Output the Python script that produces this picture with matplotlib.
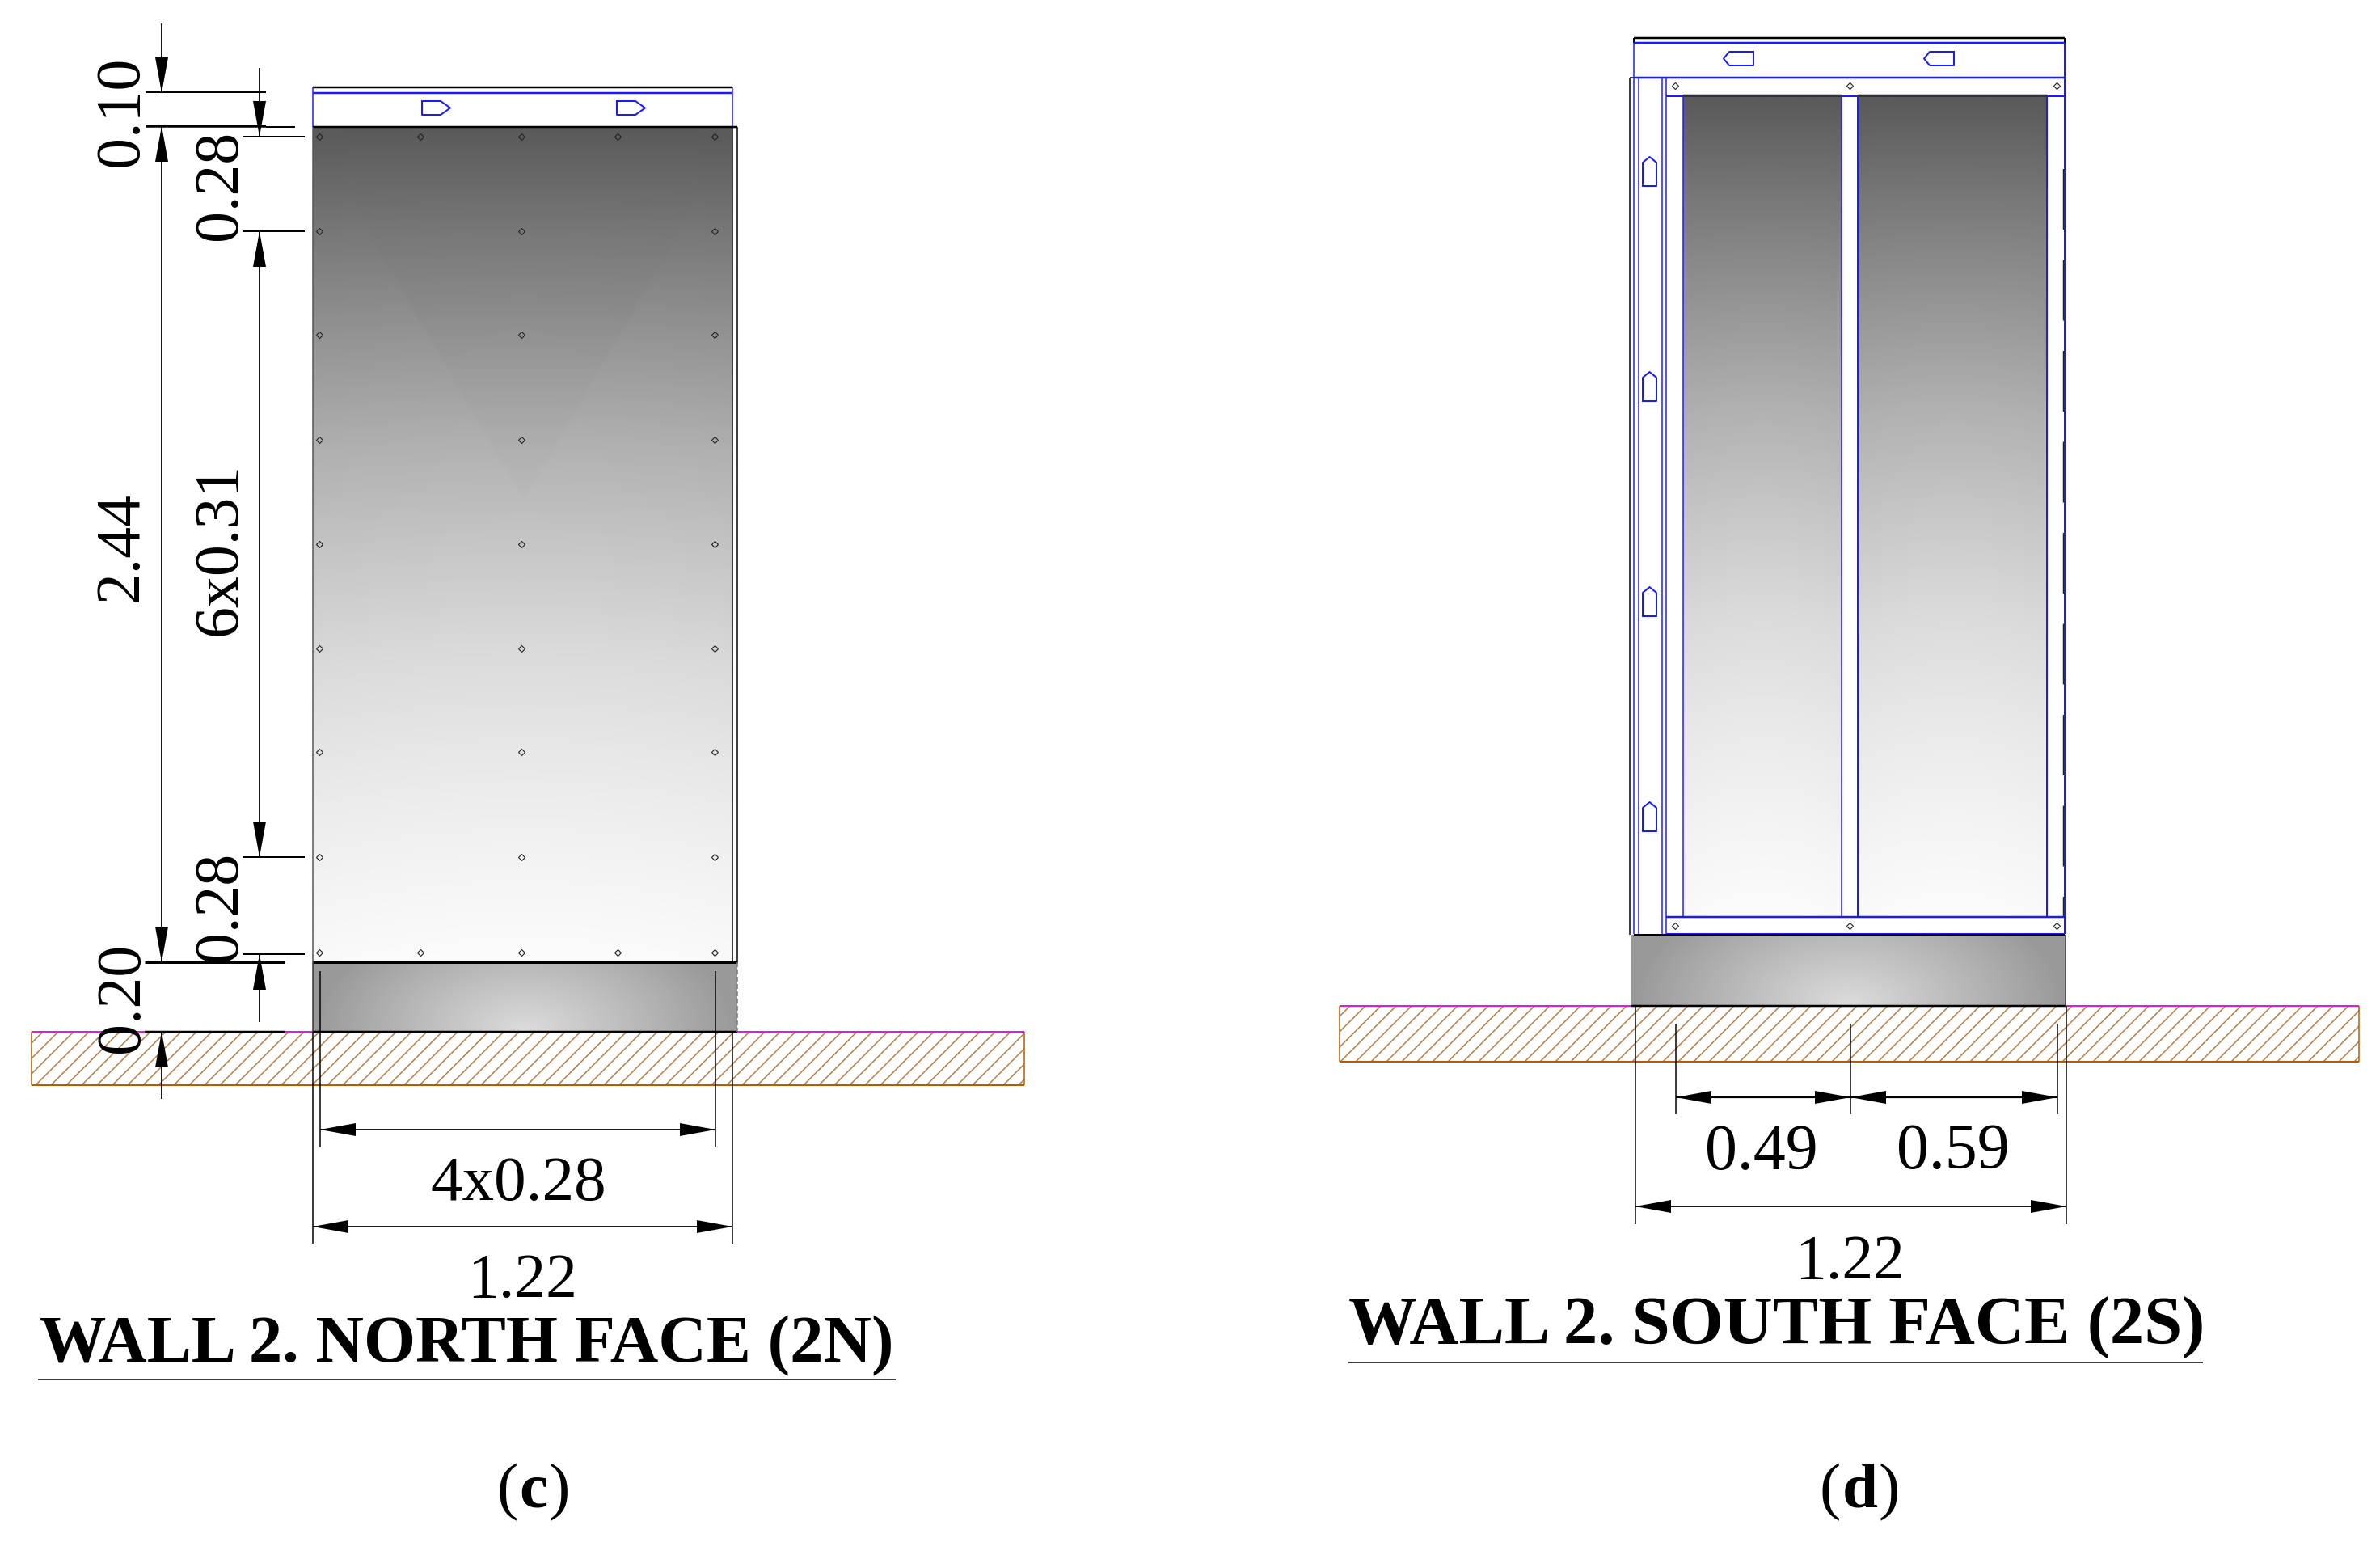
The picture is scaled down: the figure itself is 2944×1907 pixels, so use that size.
import numpy as np
import matplotlib
matplotlib.use('Agg')
import matplotlib.pyplot as plt
from matplotlib.collections import LineCollection
from matplotlib.colors import LinearSegmentedColormap
from matplotlib.patches import Rectangle

plt.rcParams['font.family'] = ['Liberation Serif', 'DejaVu Serif']

# dimension labels
titles = ['WALL 2. NORTH FACE (2N)', 'WALL 2. SOUTH FACE (2S)']
panel_letters = ['c', 'd']
north_vertical = ['0.10', '0.28', '2.44', '6x0.31', '0.28', '0.20']
north_horizontal = ['4x0.28', '1.22']
south_horizontal = ['0.49', '0.59', '1.22']

# grey levels read down the wall, top to bottom
wall_greys = ['#5a5a5a', '#797979', '#959595', '#b0b0b0', '#c6c6c6',
              '#dadada', '#e8e8e8', '#f3f3f3', '#fcfcfc']
base_greys = ['#dcdcdc', '#c6c6c6', '#b0b0b0', '#999999']

# bolt positions in pixels
north_bolt_x = [395, 520, 645, 764, 884]
north_bolt_y = [170, 287, 415, 545, 674, 803, 931, 1061, 1179]
south_bolt_x = [2072, 2288, 2544]
south_bolt_y = [107, 1146]
south_tag_bottoms = [231, 497, 763, 1029]

BLUE = '#1a1aff'
ORANGE = '#b87a42'
BROWN = '#b35c00'
MAGENTA = '#ee11ee'

wall_cmap = LinearSegmentedColormap.from_list('wall', wall_greys)
base_cmap = LinearSegmentedColormap.from_list('base', base_greys)

fig = plt.figure(figsize=(29.44, 19.08), dpi=100)
ax = fig.add_axes([0, 0, 1, 1])
ax.set_xlim(0, 2944)
ax.set_ylim(1908, 0)
ax.axis('off')


def px(w):
    return w * 0.72


def line(xs, ys, color='black', w=2.0, z=5, **kw):
    ax.plot(xs, ys, color=color, lw=px(w), solid_capstyle='butt', zorder=z, **kw)


def outline(xs, ys, color=BLUE, w=2.0, z=5):
    ax.plot(list(xs) + [xs[0]], list(ys) + [ys[0]], color=color, lw=px(w), zorder=z)


def arrow(x, y, direction, length=44, width=16):
    # direction is where the tip points
    dx, dy = {'up': (0, -1), 'down': (0, 1), 'left': (-1, 0), 'right': (1, 0)}[direction]
    bx, by = x - dx * length, y - dy * length
    ax.fill([x, bx - dy * width / 2, bx + dy * width / 2],
            [y, by - dx * width / 2, by + dx * width / 2], color='black', lw=0, zorder=7)


def wall_image(x0, x1, y0, y1, v_mark=False):
    xx, yy = np.meshgrid(np.linspace(x0, x1, 200), np.linspace(y0, y1, 500))
    t = (yy - y0) / (y1 - y0)
    r = np.abs(xx - (x0 + x1) / 2) / ((x1 - x0) / 2)
    shade = t - 0.035 * r ** 2 * t
    if v_mark:
        # faint wedge in the upper half of the big panel
        half = (620 - yy) / 342 * 198
        inside = np.abs(xx - 648) < half
        shade = shade - 0.012 * inside * np.clip((yy - 230) / 150, 0, 1)
    ax.imshow(shade, extent=[x0, x1, y1, y0], cmap=wall_cmap, vmin=0, vmax=1,
              aspect='auto', zorder=1, interpolation='bilinear')


def base_image(x0, x1, y0, y1):
    xx, yy = np.meshgrid(np.linspace(x0, x1, 300), np.linspace(y0, y1, 60))
    r = np.sqrt(((xx - (x0 + x1) / 2) / ((x1 - x0) / 2)) ** 2 + ((y1 - yy) / (y1 - y0) * 0.55) ** 2)
    ax.imshow(np.clip(r, 0, 1), extent=[x0, x1, y1, y0], cmap=base_cmap, vmin=0, vmax=1,
              aspect='auto', zorder=1, interpolation='bilinear')


def ground(x0, x1, y0, y1, start):
    h = y1 - y0
    starts = np.arange(start - h - 40 * 19, x1 + 19, 19)
    segs = [[(s, y1), (s + h, y0)] for s in starts]
    clip = Rectangle((x0, y0), x1 - x0, h, transform=ax.transData)
    lc = LineCollection(segs, colors=ORANGE, linewidths=px(1.5), zorder=2)
    ax.add_collection(lc)
    lc.set_clip_path(clip)
    line([x0, x1], [y1, y1], BROWN, 2, 3)
    line([x0, x0], [y0, y1], BROWN, 1.5, 3)
    line([x1, x1], [y0, y1], BROWN, 1.5, 3)
    line([x0, x1], [y0, y0], MAGENTA, 2, 3)


def bolts(xs, ys):
    ax.plot(xs, ys, ls='none', marker='D', ms=3.6, mfc='none', mec='#222222', mew=0.8, zorder=6)


def label(x, y, s, rotation=0, size=56, weight='normal', ha='center'):
    return ax.text(x, y, s, fontsize=size, fontweight=weight, rotation=rotation, ha=ha,
                   va='baseline', rotation_mode='anchor', color='black', zorder=8)


def panel_letter(x, y, letter):
    # bold letter between plain brackets, each placed after the one before
    renderer = fig.canvas.get_renderer()
    for s, weight in [('(', 'normal'), (letter, 'bold'), (')', 'normal')]:
        t = label(x, y, s, ha='left', size=57, weight=weight)
        x = t.get_window_extent(renderer).x1 + 1


# ---- north face ----
wall_image(387, 906, 158, 1191, v_mark=True)
base_image(387, 912, 1191, 1277)
ground(39, 1267, 1277, 1343, 357)

line([387, 906], [109, 109], w=2.5)
line([387, 906], [116, 116], BLUE, 2.5)
line([387, 387], [109, 158], BLUE, 1.5)
line([906, 906], [109, 158], BLUE, 1.5)
line([387, 912], [158, 158], w=2.5)
line([912, 912], [158, 1191], w=1.5)
line([906, 906], [158, 1191], w=1.5)
line([387, 387], [158, 1191], '#555555', 1.5)
line([387, 912], [1191, 1191], w=3)
line([387, 912], [1277, 1277], w=2.5)
line([387, 387], [1191, 1277], '#333333', 1.5)
ax.plot([912, 912], [1191, 1277], color='#777777', lw=px(1.5), ls=(0, (4, 2)), zorder=5)

for x0 in [522, 763]:
    outline([x0, x0 + 23, x0 + 35, x0 + 23, x0], [126, 126, 134.5, 143, 143])

for i, x in enumerate(north_bolt_x):
    bolts([x], [north_bolt_y[0]])
    bolts([x], [north_bolt_y[-1]])
for y in north_bolt_y[1:-1]:
    bolts([395, 645, 884], [y] * 3)

# vertical dimension chains, outer then inner
line([200, 200], [30, 115], w=1.8)
arrow(200, 116, 'down')
line([200, 200], [157, 1191], w=1.8)
arrow(200, 157, 'up')
arrow(200, 1191, 'down')
line([200, 200], [1277, 1360], w=1.8)
arrow(200, 1277, 'up')
line([180, 329], [115, 115], w=2)
line([180, 329], [157, 157], w=3.5)
line([329, 365], [158, 158], w=2)
line([179, 352], [1191, 1191], w=3)
line([179, 352], [1277, 1277], w=2.5)

line([321, 321], [85, 170], w=1.8)
arrow(321, 170, 'down')
line([321, 321], [287, 1061], w=1.8)
arrow(321, 287, 'up')
arrow(321, 1061, 'down')
line([321, 321], [1181, 1265], w=1.8)
arrow(321, 1181, 'up')
for y in [170, 287, 1061, 1181]:
    line([300, 377], [y, y], w=2)

label(170, 138, north_vertical[0], 90)
label(292, 229, north_vertical[1], 90)
label(170, 676, north_vertical[2], 90)
label(292, 679, north_vertical[3], 90)
label(292, 1121, north_vertical[4], 90)
label(171, 1234, north_vertical[5], 90)

# horizontal dimensions
line([396, 396], [1202, 1420], w=1.5)
line([885, 885], [1202, 1420], w=1.5)
line([396, 885], [1398, 1398], w=1.8)
arrow(396, 1398, 'left')
arrow(885, 1398, 'right')
line([387, 387], [1277, 1539], w=1.5)
line([906, 906], [1277, 1539], w=1.5)
line([387, 906], [1518, 1518], w=1.8)
arrow(387, 1518, 'left')
arrow(906, 1518, 'right')
label(641, 1484, north_horizontal[0], size=57)
label(646, 1604, north_horizontal[1])

label(49, 1684, titles[0], size=59.4, weight='bold', ha='left')
line([47, 1108], [1707, 1707], w=1.5)
panel_letter(615, 1864, panel_letters[0])

# ---- south face ----
wall_image(2082, 2278, 119, 1135)
wall_image(2298, 2532, 119, 1135)
base_image(2018, 2556, 1157, 1245)
ground(1657, 2918, 1245, 1314, 1670)

line([2021, 2554], [48, 48], w=2.5)
line([2021, 2021], [48, 54], w=2)
line([2554, 2554], [48, 54], w=2)
line([2021, 2554], [54, 54], BLUE, 2.5)
line([2021, 2554], [97, 97], BLUE, 2.5)
line([2016, 2021], [97, 97], w=1.5)
line([2016, 2016], [97, 1157], w=1.5)
for x in [2021, 2027, 2056, 2061]:
    line([x, x], [54 if x == 2021 else 97, 1156], BLUE, 1.5)
line([2554, 2554], [54, 1156], BLUE, 2)
line([2061, 2554], [120, 120], BLUE, 2)
line([2061, 2554], [1135, 1135], BLUE, 2.5)
line([2061, 2554], [1156, 1156], BLUE, 2)
line([2021, 2554], [1157, 1157], w=2)
ax.plot([2553, 2553], [210, 1135], color='#222222', lw=px(2.5), ls=(0, (30, 15)), zorder=4)
outline([2082, 2278, 2278, 2082], [119, 119, 1135, 1135], BLUE, 1.5)
outline([2298, 2532, 2532, 2298], [119, 119, 1135, 1135], BLUE, 2)
line([2082, 2278], [119, 119], '#333333', 2.5)
line([2298, 2532], [119, 119], '#333333', 2.5)

for x0 in [2132, 2380]:
    outline([x0 + 37, x0 + 7, x0, x0 + 7, x0 + 37], [65, 65, 73.5, 82, 82])
for b in south_tag_bottoms:
    outline([2032, 2049, 2049, 2040.5, 2032], [b, b, b - 29, b - 36, b - 29])

for y in south_bolt_y:
    bolts(south_bolt_x, [y] * 3)

line([2018, 2556], [1245, 1245], w=2.5)
line([2555, 2555], [1157, 1245], '#444444', 1.5)

for x in [2073, 2289, 2545]:
    line([x, x], [1267, 1379], w=1.5)
line([2073, 2545], [1358, 1358], w=2.2)
arrow(2073, 1358, 'left')
arrow(2289, 1358, 'right')
arrow(2289, 1358, 'left')
arrow(2545, 1358, 'right')
line([2023, 2023], [1245, 1515], w=1.5)
line([2556, 2556], [1245, 1515], w=1.5)
line([2023, 2556], [1493, 1493], w=1.8)
arrow(2023, 1493, 'left')
arrow(2556, 1493, 'right')
label(2179, 1446, south_horizontal[0], size=57.5)
label(2416, 1445, south_horizontal[1], size=57.5)
label(2288, 1581, south_horizontal[2])

label(1668, 1662, titles[1], size=60.9, weight='bold', ha='left')
line([1668, 2725], [1686, 1686], w=1.5)
panel_letter(2251, 1864, panel_letters[1])

fig.savefig('out.png', dpi=100, facecolor='white')
